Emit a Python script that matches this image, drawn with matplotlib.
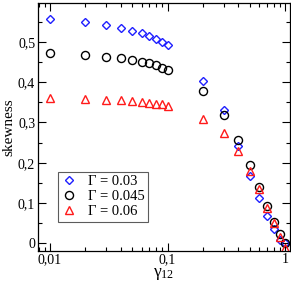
import numpy as np
import matplotlib
matplotlib.use('Agg')
import matplotlib.pyplot as plt
from matplotlib.ticker import FixedLocator, FuncFormatter, MultipleLocator

plt.rcParams['font.family'] = ['Liberation Serif', 'DejaVu Serif']
plt.rcParams['mathtext.fontset'] = 'custom'
plt.rcParams['mathtext.rm'] = 'Liberation Serif'
plt.rcParams['mathtext.it'] = 'Liberation Serif:italic'

gamma12 = [0.01, 0.02, 0.03, 0.04, 0.05, 0.06, 0.07, 0.08, 0.09, 0.1,
           0.2, 0.3, 0.4, 0.5, 0.6, 0.7, 0.8, 0.9, 1.0]
skew_003 = [0.557, 0.550, 0.542, 0.535, 0.528, 0.521, 0.514, 0.508, 0.500, 0.492,
            0.404, 0.330, 0.241, 0.167, 0.112, 0.068, 0.035, 0.008, 0.002]
skew_0045 = [0.473, 0.467, 0.463, 0.459, 0.455, 0.450, 0.447, 0.442, 0.436, 0.431,
             0.378, 0.319, 0.257, 0.195, 0.140, 0.094, 0.053, 0.023, 0.000]
skew_006 = [0.361, 0.358, 0.357, 0.355, 0.353, 0.351, 0.349, 0.347, 0.345, 0.342,
            0.309, 0.274, 0.229, 0.180, 0.136, 0.089, 0.050, 0.015, -0.011]
labels = ['\u0393 = 0.03', '\u0393 = 0.045', '\u0393 = 0.06']

fig = plt.figure(figsize=(2.91, 2.90), dpi=100)
ax = fig.add_axes([0.1306, 0.1355, 0.8644, 0.855])

ax.plot(gamma12, skew_003, ls='none', marker='D', ms=4.3, mfc='none', mec='#1f1fff', mew=1.0, label=labels[0])
ax.plot(gamma12, skew_0045, ls='none', marker='o', ms=5.8, mfc='none', mec='black', mew=1.0, label=labels[1])
ax.plot(gamma12, skew_006, ls='none', marker='^', ms=5.8, mfc='none', mec='#ff1a1a', mew=1.0, label=labels[2])

ax.set_xscale('log')
ax.set_xlim(0.0079, 1.09)
ax.set_ylim(-0.018, 0.597)

def comma(v, pos):
    s = ('%g' % v).replace('.', ',')
    return s

ax.xaxis.set_major_locator(FixedLocator([0.01, 0.1, 1]))
ax.xaxis.set_minor_locator(FixedLocator([k * 10.0**e for e in (-3, -2, -1) for k in range(2, 10)]))
ax.xaxis.set_major_formatter(FuncFormatter(comma))
ax.xaxis.set_minor_formatter(FuncFormatter(lambda v, p: ''))
ax.yaxis.set_major_locator(MultipleLocator(0.1))
ax.yaxis.set_minor_locator(MultipleLocator(0.05))
ax.yaxis.set_major_formatter(FuncFormatter(lambda v, p: ('%g' % round(v, 2)).replace('.', ',')))

ax.tick_params(which='both', direction='in', top=True, right=True, labelsize=10, width=0.8, pad=2)
ax.tick_params(which='major', length=5.5)
ax.tick_params(which='minor', length=2.8)
for sp in ax.spines.values():
    sp.set_linewidth(0.9)

ax.set_xlabel('\u03b3$_{\\mathregular{12}}$', fontsize=12.5, labelpad=0)
ax.set_ylabel('skewness', fontsize=11, labelpad=2)

leg = ax.legend(loc='lower left', bbox_to_anchor=(0.08, 0.116), borderaxespad=0,
                fontsize=10.5, frameon=True, fancybox=False, handlelength=1.0,
                handletextpad=0.8, borderpad=0.25, labelspacing=0.12)
leg.get_frame().set_edgecolor('#333333')
leg.get_frame().set_linewidth(0.8)

fig.savefig('out.png', dpi=100)
